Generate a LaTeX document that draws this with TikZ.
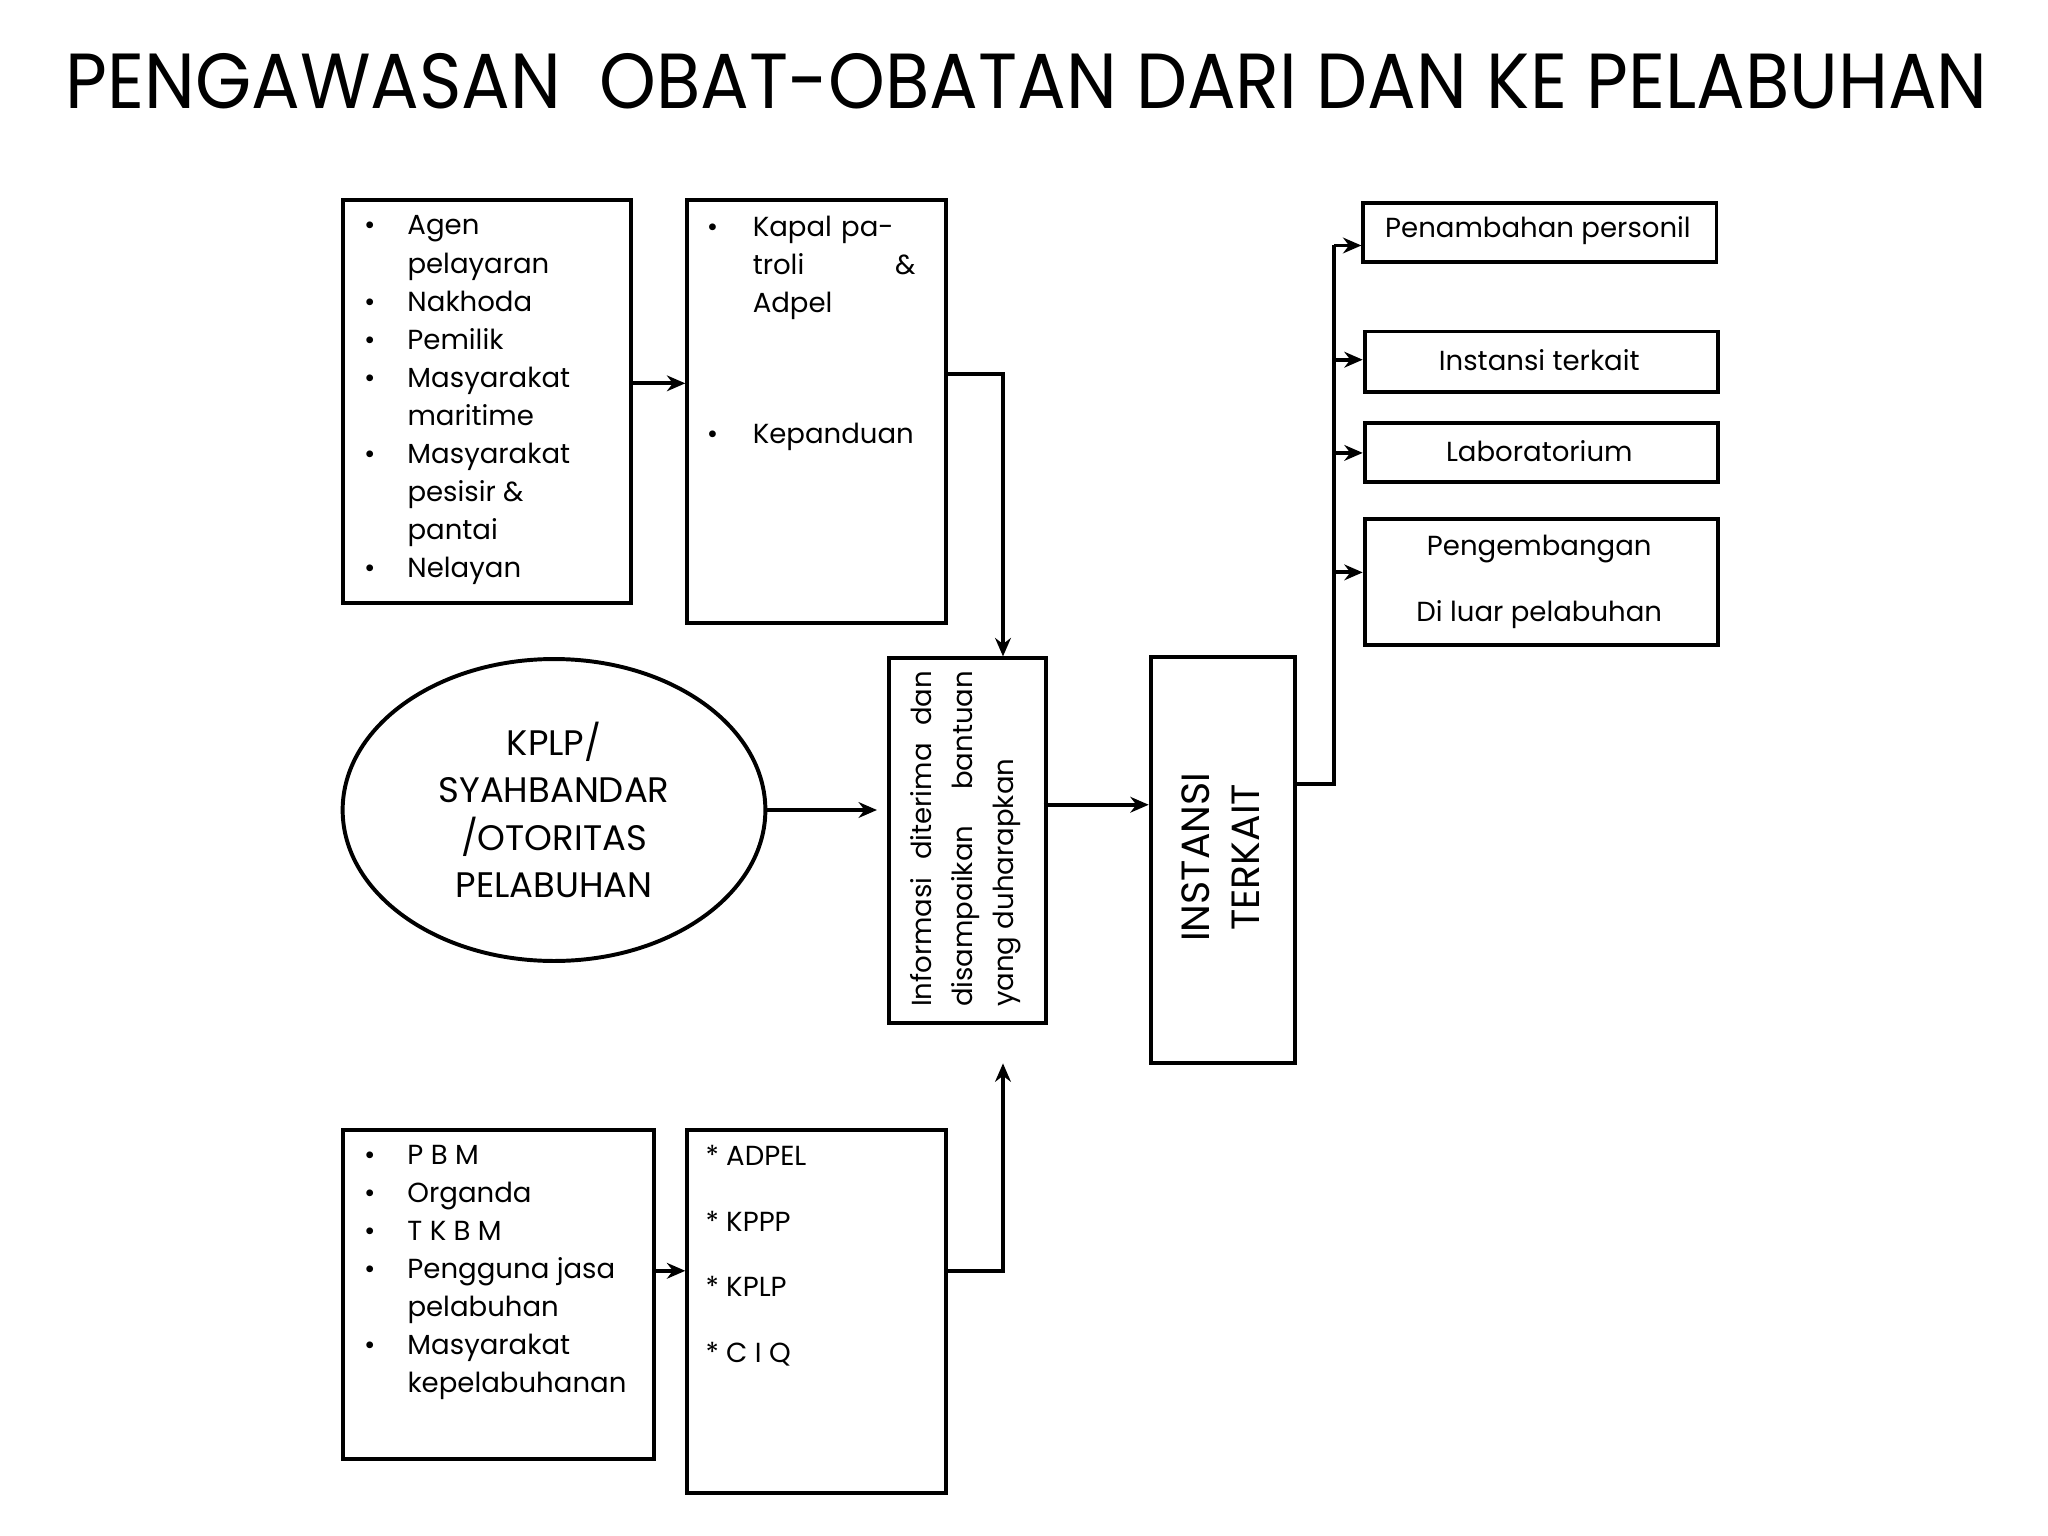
\documentclass[tikz,border=0pt]{standalone}
\usepackage{fontspec}
\setmainfont{Poppins}
\usetikzlibrary{shapes.geometric,arrows.meta}
\newcommand{\bl}[1]{\makebox[16.5pt][l]{\textbullet}#1\\}
\newcommand{\cl}[1]{\hspace*{16.5pt}#1\\}
\begin{document}
\begin{tikzpicture}[x=0.5pt,y=-0.5pt,
  bx/.style={draw,line width=1.5pt,inner sep=0,anchor=north west},
  ln/.style={line width=1.5pt},
  ar/.style={line width=1.5pt,-{Stealth[length=7pt,width=6pt]}},
  tx/.style={inner sep=0,anchor=north west,align=left,font=\fontsize{10.5}{14.5}\selectfont},
  rt/.style={font=\fontsize{10.5}{12}\selectfont}]
\useasboundingbox (0,0) rectangle (1560,1170);
\node[inner sep=0] (title) at (782,62) {\resizebox{732pt}{21pt}{PENGAWASAN\ \ OBAT-OBATAN DARI DAN KE PELABUHAN}};
% top left
\node[bx,minimum width=109.5pt,minimum height=153.5pt] (A) at (260,151) {};
\node[tx] (At) at (277,164) {\bl{Agen}\cl{pelayaran}\bl{Nakhoda}\bl{Pemilik}\bl{Masyarakat}\cl{maritime}\bl{Masyarakat}\cl{pesisir \&}\cl{pantai}\bl{Nelayan}};
\node[bx,minimum width=98.5pt,minimum height=161pt] (B) at (522,151) {};
\node[tx,text width=82pt] (Bt) at (538,164) {\makebox[17.5pt][l]{\textbullet}\parbox[t]{62pt}{Kapal patroli \hfill \& \\ Adpel}};
\node[tx] (Bt2) at (538,322) {\makebox[17.5pt][l]{\textbullet}Kepanduan};
% ellipse
\node[draw,ellipse,line width=1.5pt,minimum width=161pt,minimum height=115pt,align=center,font=\fontsize{13.5}{18}\selectfont] (E) at (422,617) {KPLP/\\SYAHBANDAR\\/OTORITAS\\PELABUHAN};
\coordinate (Ein) at (668,617);
% info
\node[bx,minimum width=59.5pt,minimum height=139pt] (I) at (676,500) {};
\node[rotate=90,text width=128pt,align=justify,inner sep=0,font=\fontsize{10.5}{15.5}\selectfont] (It) at (735.5,639) {Informasi diterima dan disampaikan bantuan yang duharapkan\par};
% instansi
\node[bx,minimum width=55pt,minimum height=154.5pt] (K) at (875,499) {};
\node[rotate=90,align=center,inner sep=0,font=\fontsize{15}{19}\selectfont] (Kt) at (930,653) {INSTANSI\\TERKAIT};
% right boxes
\node[bx,minimum width=134.5pt,minimum height=22.5pt] (R1) at (1037,153) {};
\node[rt] at (1171.5,176) {Penambahan personil};
\node[bx,minimum width=134.5pt,minimum height=23pt] (R2) at (1038,251) {};
\node[rt] at (1172.5,274) {Instansi terkait};
\node[bx,minimum width=134.5pt,minimum height=22.5pt] (R3) at (1038,321) {};
\node[rt] at (1172.5,344) {Laboratorium};
\node[bx,minimum width=134.5pt,minimum height=48pt] (R4) at (1038,394) {};
\node[rt,align=center] at (1172.5,443) {Pengembangan\\[13pt]Di luar pelabuhan};
% bottom
\node[bx,minimum width=118.5pt,minimum height=125.5pt] (C) at (260,859) {};
\node[tx] (Ct) at (277,872) {\bl{P B M}\bl{Organda}\bl{T K B M}\bl{Pengguna jasa}\cl{pelabuhan}\bl{Masyarakat}\cl{kepelabuhanan}};
\node[bx,minimum width=98.5pt,minimum height=138.5pt] (D) at (522,859) {};
\node[tx,font=\fontsize{10.5}{25}\selectfont] (Dt) at (537,872) {* ADPEL\\* KPPP\\* KPLP\\* C I Q};
% connectors
\draw[ar] (A.east |- 0,292) -- (B.west |- 0,292);
\draw[ar] (B.east |- 0,285) -- (764,285) -- (764,500);
\draw[ar] (E.east) -- (Ein);
\draw[ar] (795,613) -- (875,613);
\draw[ln] (985,597) -- (1016,597) -- (1016,187);
\draw[ar] (1016,187) -- (1037,187);
\draw[ar] (1016,274) -- (1038,274);
\draw[ar] (1016,345) -- (1038,345);
\draw[ar] (1016,436) -- (1038,436);
\draw[ar] (C.east |- 0,968) -- (D.west |- 0,968);
\draw[ar] (D.east |- 0,968) -- (764,968) -- (764,810);
\end{tikzpicture}
\end{document}
